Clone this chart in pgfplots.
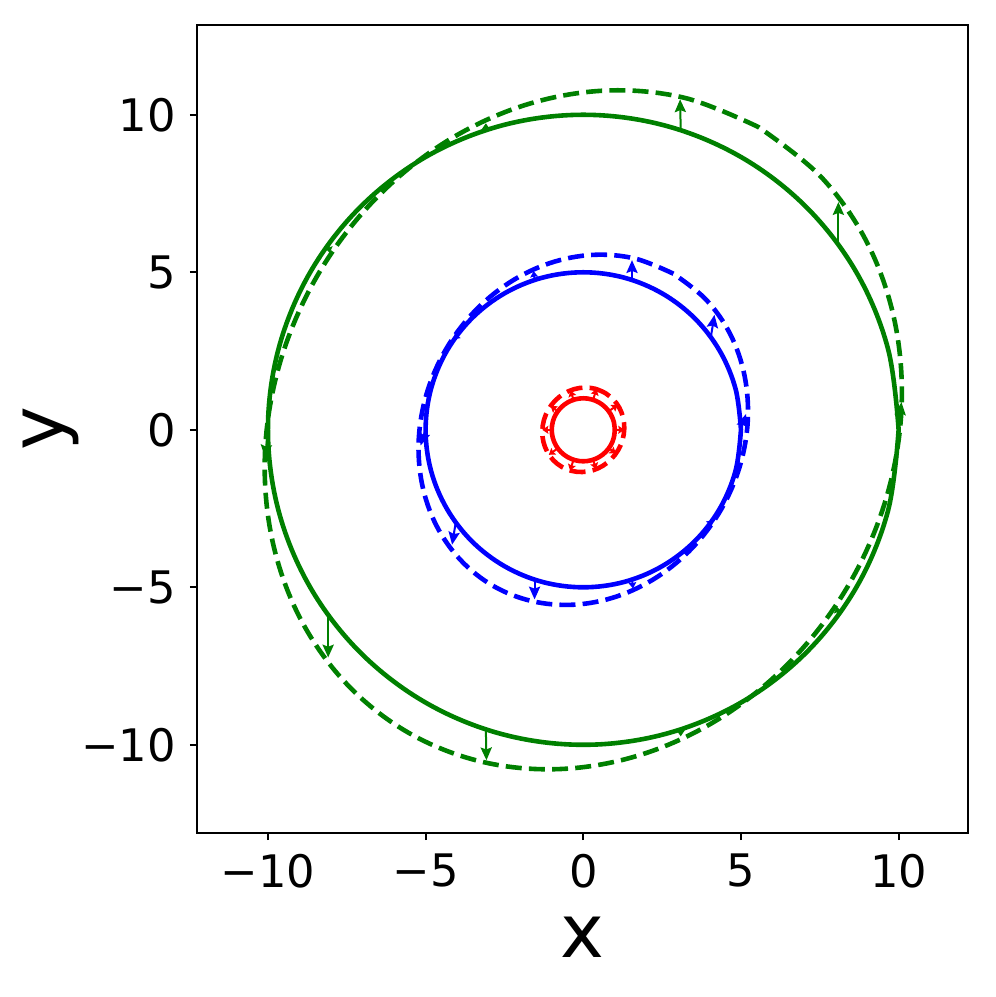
\documentclass[border=0pt]{standalone}
\usepackage{fontspec}
\setmainfont{DejaVu Sans}
\usepackage{pgfplots}
\pgfplotsset{compat=1.18}
\usetikzlibrary{arrows.meta}
\definecolor{mgreen}{RGB}{0,128,0}
\definecolor{mblue}{RGB}{0,0,255}
\definecolor{mred}{RGB}{255,0,0}
\pgfplotsset{
  longarr/.style={line width=0.5pt, quiver={u=\thisrow{u},v=\thisrow{v}}, -{Stealth[length=3.2pt,width=2.8pt,inset=0.5pt]}},
  shortarr/.style={line width=0.5pt, quiver={u=\thisrow{u},v=\thisrow{v}}, -{Stealth[length=1.5pt,width=2.0pt,inset=0.2pt]}},
}
\begin{document}
\begin{tikzpicture}
\useasboundingbox (-49.25pt,-41pt) rectangle (199.75pt,208.25pt);
\begin{axis}[
  at={(0pt,0pt)}, anchor=south west,
  width=192.75pt, height=202pt, scale only axis,
  xmin=-12.25, xmax=12.2, ymin=-12.8, ymax=12.85,
  axis line style={line width=0.5pt},
  xtick={-10,-5,0,5,10}, xticklabels={−10,−5,0,5,10},
  ytick={-10,-5,0,5,10}, yticklabels={−10,−5,0,5,10},
  xtick pos=left, ytick pos=left,
  tick align=outside, major tick length=1.75pt,
  tick style={black, line width=0.5pt},
  tick label style={font=\fontsize{11.2}{13}\selectfont},
  xlabel={x}, ylabel={y},
  label style={font=\fontsize{18.5}{22}\selectfont},
  xlabel style={at={(axis description cs:0.5,-0.1292)}, anchor=center},
  ylabel style={at={(axis description cs:-0.1894,0.5)}, anchor=center},
  clip=true,
]
% ---------------- green (r = 10) ----------------
\addplot[mgreen, line width=1.15pt, smooth, tension=0.6] coordinates {
(10,0) (9.659,2.588) (8.660,5) (7.071,7.071) (5,8.660) (2.588,9.659) (0,10)
(-2.588,9.659) (-5,8.660) (-7.071,7.071) (-8.660,5) (-9.659,2.588) (-10,0)
(-9.659,-2.588) (-8.660,-5) (-7.071,-7.071) (-5,-8.660) (-2.588,-9.659) (0,-10)
(2.588,-9.659) (5,-8.660) (7.071,-7.071) (8.660,-5) (9.659,-2.588) (10,0)
};
\addplot[mgreen, line width=1.15pt, smooth, tension=0.6, dash pattern=on 4pt off 1.8pt] coordinates {
(5.550,9.613) (3.176,10.547) (0.584,10.762) (-2.046,10.244) (-4.537,9.028)
(-6.720,7.197) (-8.444,4.875) (-9.592,2.221) (-10.087,-0.584) (-9.894,-3.350)
(-9.028,-5.887) (-7.546,-8.023) (-5.550,-9.613) (-3.176,-10.547) (-0.584,-10.762)
(2.046,-10.244) (4.537,-9.028) (6.720,-7.197) (8.444,-4.875) (9.592,-2.221)
(10.087,0.584) (9.894,3.350) (9.028,5.887) (7.546,8.023) (5.550,9.613)
};
\addplot[mgreen, longarr] table {
x y u v
10 0 0.09 0.88
8.090 5.878 0.0 1.35
3.090 9.511 -0.02 0.98
-10 0 -0.09 -0.88
-8.090 -5.878 0.0 -1.35
-3.090 -9.511 0.02 -0.98
};
\addplot[mgreen, shortarr] table {
x y u v
-3.090 9.511 0.0 0.22
-8.090 5.878 0.05 -0.26
3.090 -9.511 0.0 -0.22
8.090 -5.878 -0.05 0.26
};
% ---------------- blue (r = 5) ----------------
\addplot[mblue, line width=1.15pt, smooth, tension=0.6] coordinates {
(5,0) (4.830,1.294) (4.330,2.5) (3.536,3.536) (2.5,4.330) (1.294,4.830) (0,5)
(-1.294,4.830) (-2.5,4.330) (-3.536,3.536) (-4.330,2.5) (-4.830,1.294) (-5,0)
(-4.830,-1.294) (-4.330,-2.5) (-3.536,-3.536) (-2.5,-4.330) (-1.294,-4.830) (0,-5)
(1.294,-4.830) (2.5,-4.330) (3.536,-3.536) (4.330,-2.5) (4.830,-1.294) (5,0)
};
\addplot[mblue, line width=1.15pt, smooth, tension=0.6, dash pattern=on 4pt off 1.8pt] coordinates {
(2.860,4.954) (1.630,5.438) (0.290,5.552) (-1.070,5.288) (-2.357,4.664)
(-3.484,3.721) (-4.373,2.525) (-4.964,1.157) (-5.217,-0.290) (-5.114,-1.718)
(-4.664,-3.028) (-3.894,-4.132) (-2.860,-4.954) (-1.630,-5.438) (-0.290,-5.552)
(1.070,-5.288) (2.357,-4.664) (3.484,-3.721) (4.373,-2.525) (4.964,-1.157)
(5.217,0.290) (5.114,1.718) (4.664,3.028) (3.894,4.132) (2.860,4.954)
};
\addplot[mblue, longarr] table {
x y u v
5 0 0.16 0.50
4.045 2.939 0.115 0.71
1.545 4.755 0.0 0.63
-5 0 -0.16 -0.50
-4.045 -2.939 -0.115 -0.71
-1.545 -4.755 0.0 -0.63
};
\addplot[mblue, shortarr] table {
x y u v
-1.545 4.755 -0.03 0.28
-4.045 2.939 -0.07 -0.07
1.545 -4.755 0.03 -0.28
4.045 -2.939 0.07 0.07
};
% ---------------- red (r = 1) ----------------
\addplot[mred, line width=1.15pt, smooth, tension=0.6] coordinates {
(1,0) (0.966,0.259) (0.866,0.5) (0.707,0.707) (0.5,0.866) (0.259,0.966) (0,1)
(-0.259,0.966) (-0.5,0.866) (-0.707,0.707) (-0.866,0.5) (-0.966,0.259) (-1,0)
(-0.966,-0.259) (-0.866,-0.5) (-0.707,-0.707) (-0.5,-0.866) (-0.259,-0.966) (0,-1)
(0.259,-0.966) (0.5,-0.866) (0.707,-0.707) (0.866,-0.5) (0.966,-0.259) (1,0)
};
\addplot[mred, line width=1.15pt, smooth, tension=0.6, dash pattern=on 4pt off 1.8pt] coordinates {
(0.680,1.178) (0.370,1.304) (0.035,1.340) (-0.303,1.286) (-0.620,1.143)
(-0.895,0.923) (-1.109,0.640) (-1.247,0.313) (-1.300,-0.035) (-1.265,-0.380)
(-1.143,-0.700) (-0.944,-0.972) (-0.680,-1.178) (-0.370,-1.304) (-0.035,-1.340)
(0.303,-1.286) (0.620,-1.143) (0.895,-0.923) (1.109,-0.640) (1.247,-0.313)
(1.300,0.035) (1.265,0.380) (1.143,0.700) (0.944,0.972) (0.680,1.178)
};
\addplot[mred, shortarr] table {
x y u v
1 0 0.30 0
0.809 0.588 0.283 0.206
0.309 0.951 0.111 0.342
-0.309 0.951 -0.096 0.295
-0.809 0.588 -0.227 0.165
-1 0 -0.30 0
-0.809 -0.588 -0.283 -0.206
-0.309 -0.951 -0.111 -0.342
0.309 -0.951 0.096 -0.295
0.809 -0.588 0.227 -0.165
};
\end{axis}
\end{tikzpicture}
\end{document}
